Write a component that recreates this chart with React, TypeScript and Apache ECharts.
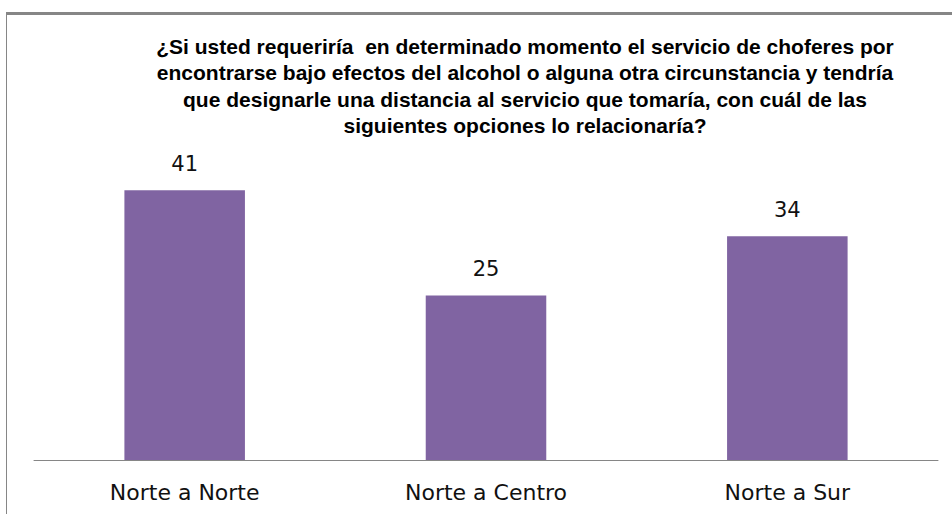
import React, { useEffect, useRef } from "react";
import * as echarts from "echarts";

const categories = ["Norte a Norte", "Norte a Centro", "Norte a Sur"];
const values = [41, 25, 34];
const titleLines = [
  "¿Si usted requeriría  en determinado momento el servicio de choferes por",
  "encontrarse bajo efectos del alcohol o alguna otra circunstancia y tendría",
  "que designarle una distancia al servicio que tomaría, con cuál de las",
  "siguientes opciones lo relacionaría?",
];

export default function App() {
  const ref = useRef<HTMLDivElement>(null);
  useEffect(() => {
    const chart = echarts.init(ref.current!, null, { renderer: "svg" });
    chart.setOption({
      animation: false,
      backgroundColor: "#ffffff",
      grid: { left: 34, right: 14, top: 164, bottom: 54, containLabel: false },
      xAxis: {
        type: "category",
        data: categories,
        axisLine: { lineStyle: { color: "#868686", width: 1 } },
        axisTick: { show: false },
        axisLabel: {
          color: "#111",
          fontFamily: "DejaVu Sans",
          fontSize: 22,
          margin: 21,
        },
      },
      yAxis: {
        type: "value",
        min: 0,
        max: 45,
        show: false,
        splitLine: { show: false },
      },
      series: [
        {
          type: "bar",
          data: values,
          barWidth: "40%",
          itemStyle: { color: "#8064A2" },
          label: {
            show: true,
            position: "top",
            distance: 16,
            color: "#111",
            fontFamily: "DejaVu Sans",
            fontSize: 21,
          },
        },
      ],
      graphic: [
        {
          type: "rect",
          shape: { x: 6.5, y: 13.5, width: 1000, height: 600 },
          style: { fill: "none", stroke: "#868686", lineWidth: 1 },
        },
        {
          type: "rect",
          shape: { x: 6, y: 12, width: 1000, height: 3 },
          style: { fill: "#868686" },
        },
        {
          type: "text",
          x: 525,
          y: 33,
          style: {
            text: titleLines.join("\n"),
            textAlign: "center",
            fontFamily: "Liberation Sans",
            fontWeight: "bold",
            fontSize: 21,
            lineHeight: 26.5,
            fill: "#000",
          },
        },
      ],
    });
    return () => chart.dispose();
  }, []);
  return <div ref={ref} style={{ width: 952, height: 514, position: "absolute", left: 0, top: 0 }} />;
}
